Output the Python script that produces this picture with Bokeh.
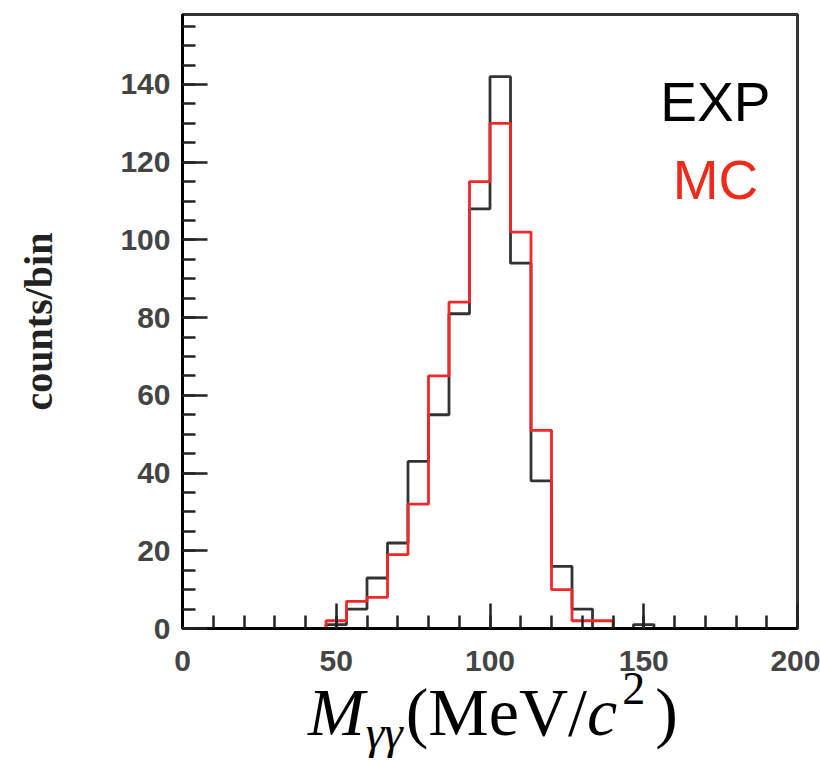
import numpy as np
from bokeh.plotting import figure
from bokeh.models import Label, SingleIntervalTicker, Range1d, ColumnDataSource, Div
from bokeh.layouts import column
from bokeh.embed import file_html
from bokeh.resources import INLINE

# ---- data (30 bins from 0 to 200 MeV/c^2) ----
bin_lo = 0.0
bin_hi = 200.0
n_bins = 30
exp_counts = [0, 0, 0, 0, 0, 0, 0, 1, 5, 13, 22, 43, 55, 81, 108, 142, 94, 38, 16, 5,
              0, 0, 1, 0, 0, 0, 0, 0, 0, 0]
mc_counts = [0, 0, 0, 0, 0, 0, 0, 2, 7, 8, 19, 32, 65, 84, 115, 130, 102, 51, 10, 2,
             2, 0, 0, 0, 0, 0, 0, 0, 0, 0]
legend_labels = ["EXP", "MC"]
y_title = "counts/bin"

edges = np.linspace(bin_lo, bin_hi, n_bins + 1)

p = figure(width=820, height=678, output_backend="svg", toolbar_location=None,
           x_range=Range1d(0, 200), y_range=Range1d(0, 158),
           min_border_left=182, min_border_right=23, min_border_top=14,
           min_border_bottom=50, margin=0)
p.background_fill_color = "white"
p.border_fill_color = "white"
p.grid.visible = False
p.outline_line_color = "#333333"
p.outline_line_width = 3

src_exp = ColumnDataSource(dict(x=edges, y=np.append(exp_counts, exp_counts[-1])))
src_mc = ColumnDataSource(dict(x=edges, y=np.append(mc_counts, mc_counts[-1])))
p.step("x", "y", source=src_exp, mode="after", line_color="#333333", line_width=2.8)
p.step("x", "y", source=src_mc, mode="after", line_color="#f02828", line_width=2.8)

# axes
p.xaxis.ticker = SingleIntervalTicker(interval=50, num_minor_ticks=5)
p.yaxis.ticker = SingleIntervalTicker(interval=20, num_minor_ticks=4)
for ax in (p.xaxis, p.yaxis):
    ax.major_tick_in = 25
    ax.major_tick_out = 0
    ax.minor_tick_in = 13
    ax.minor_tick_out = 0
    ax.axis_line_width = 3
    ax.axis_line_color = "black"
    ax.major_tick_line_width = 2.5
    ax.minor_tick_line_width = 2.5
    ax.major_tick_line_color = "#222222"
    ax.minor_tick_line_color = "#222222"
    ax.major_label_text_font = "Liberation Sans"
    ax.major_label_text_font_size = "30px"
    ax.major_label_text_font_style = "bold"
    ax.major_label_text_color = "#444444"
p.xaxis.major_label_standoff = 22
p.yaxis.major_label_standoff = 12
p.yaxis.axis_label = y_title
p.yaxis.axis_label_text_font = "Liberation Serif"
p.yaxis.axis_label_text_font_style = "bold"
p.yaxis.axis_label_text_font_size = "40px"
p.yaxis.axis_label_text_color = "#222222"
p.yaxis.axis_label_standoff = 56

# legend texts
p.add_layout(Label(x=173.3, y=135.4, text=legend_labels[0], text_font="Liberation Sans",
                   text_font_size="55px", text_color="black", text_align="center",
                   text_baseline="alphabetic"))
p.add_layout(Label(x=173.3, y=115.3, text=legend_labels[1], text_font="Liberation Sans",
                   text_font_size="55px", text_color="#ee2a1a", text_align="center",
                   text_baseline="alphabetic"))

# x-axis title M_{γγ}(MeV/c^2) as real HTML text
x_title_html = (
    '<div style="font-family:\'Liberation Serif\',serif; font-size:68px; line-height:68px; '
    'padding-left:308px; white-space:nowrap; color:black;">'
    '<i>M</i>'
    '<span style="font-size:47px; line-height:0; position:relative; top:13px; '
    'font-style:italic; margin-left:1px; margin-right:3px;">&gamma;&gamma;</span>'
    '(MeV/<i>c</i>'
    '<span style="font-size:46px; line-height:0; position:relative; top:-31px; '
    'margin-left:5px; margin-right:10px;">2</span>)'
    '</div>'
)
div = Div(text=x_title_html, width=820, height=83, margin=0)

layout = column(p, div, spacing=0, margin=0)
open("out.html", "w").write(file_html(layout, INLINE))
